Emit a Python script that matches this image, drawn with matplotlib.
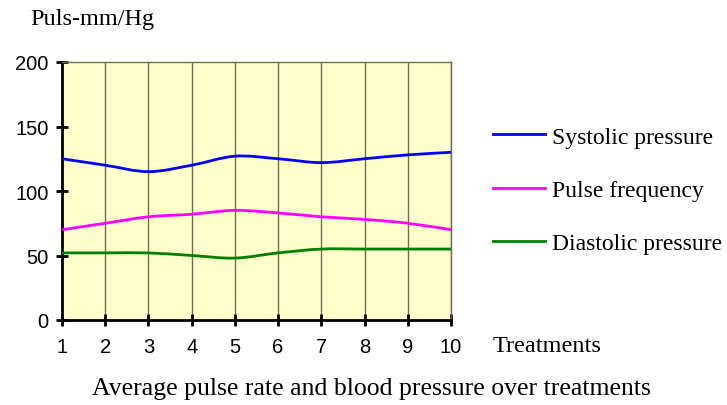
import numpy as np
import matplotlib.pyplot as plt
from matplotlib.path import Path
from matplotlib.patches import PathPatch
from matplotlib.lines import Line2D

treatments = [1, 2, 3, 4, 5, 6, 7, 8, 9, 10]
systolic = [125, 120, 115, 120, 127, 125, 122, 125, 128, 130]
pulse = [70, 75, 80, 82, 85, 83, 80, 78, 75, 70]
diastolic = [52, 52, 52, 50, 48, 52, 55, 55, 55, 55]

series = [
    ("Systolic pressure", systolic, "#0000ff"),
    ("Pulse frequency", pulse, "#ff00ff"),
    ("Diastolic pressure", diastolic, "#008000"),
]


def smooth_path(x, y):
    # Catmull-Rom style bezier, like Excel's smoothed line
    x = np.asarray(x, float)
    y = np.asarray(y, float)
    verts = [(x[0], y[0])]
    codes = [Path.MOVETO]
    n = len(x)
    for i in range(n - 1):
        x0, y0 = (x[i - 1], y[i - 1]) if i > 0 else (x[i], y[i])
        x3, y3 = (x[i + 2], y[i + 2]) if i + 2 < n else (x[i + 1], y[i + 1])
        c1 = (x[i] + (x[i + 1] - x0) / 6, y[i] + (y[i + 1] - y0) / 6)
        c2 = (x[i + 1] - (x3 - x[i]) / 6, y[i + 1] - (y3 - y[i]) / 6)
        verts += [c1, c2, (x[i + 1], y[i + 1])]
        codes += [Path.CURVE4] * 3
    return Path(verts, codes)


fig = plt.figure(figsize=(7.27, 4.06), dpi=100)
ax = fig.add_axes([62 / 727, 85 / 406, 389 / 727, 258 / 406])
ax.set_facecolor("#ffffcc")

for xv in treatments[1:]:
    ax.axvline(xv, color="#6e6e50", lw=1, zorder=1)

handles = []
for name, vals, col in series:
    ax.add_patch(PathPatch(smooth_path(treatments, vals), fill=False,
                           edgecolor=col, lw=2, zorder=3))
    handles.append(Line2D([], [], color=col, lw=2, label=name))

ax.set_xlim(1, 10)
ax.set_ylim(0, 200)
ax.set_xticks(treatments)
ax.set_yticks([0, 50, 100, 150, 200])
ax.tick_params(direction="inout", length=9, width=2, labelsize=14.5,
               labelfontfamily="Liberation Sans")
ax.tick_params(axis="y", pad=5)
ax.tick_params(axis="x", pad=8)
for s in ["left", "bottom"]:
    ax.spines[s].set_linewidth(2)
for s in ["top", "right"]:
    ax.spines[s].set_color("#6e6e50")
    ax.spines[s].set_linewidth(1)

serif = "Liberation Serif"
fig.text(30 / 727, 1 - 20 / 406, "Puls-mm/Hg", family=serif, fontsize=17.5,
         va="center", ha="left")
fig.text(493 / 727, 1 - 347 / 406, "Treatments", family=serif, fontsize=17.5,
         va="center", ha="left")
fig.text(371 / 727, 1 - 389 / 406,
         "Average pulse rate and blood pressure over treatments",
         family=serif, fontsize=18.5, va="center", ha="center")

fig.legend(handles=handles, loc="upper left",
           bbox_to_anchor=(493 / 727, 1 - 127 / 406), frameon=False,
           prop={"family": serif, "size": 17}, handlelength=2.2,
           handletextpad=0.3, labelspacing=1.35, borderaxespad=0,
           borderpad=0)

fig.savefig("out.png", dpi=100)
